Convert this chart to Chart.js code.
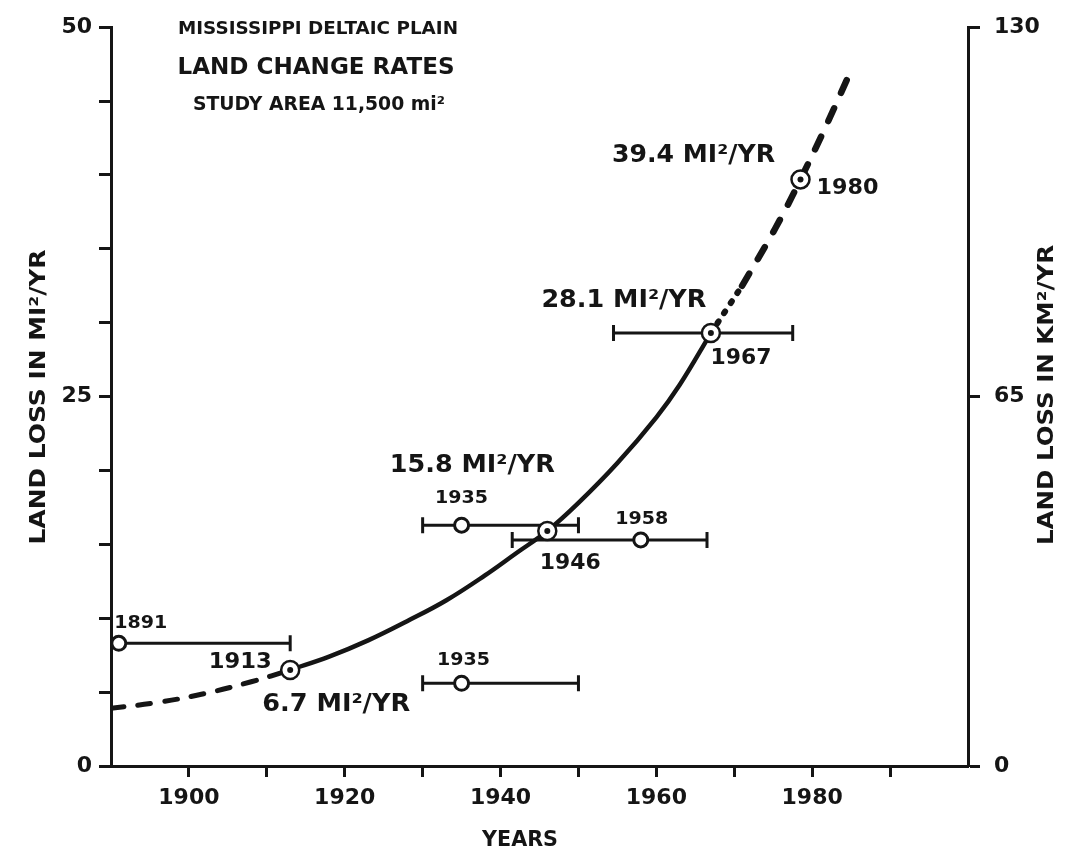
<!DOCTYPE html>
<html>
<head>
<meta charset="utf-8">
<script src="https://cdn.jsdelivr.net/npm/chart.js@4"></script>
<style>
  html, body { margin: 0; padding: 0; background: #fff; }
  #wrap { width: 1073px; height: 861px; position: relative; }
</style>
</head>
<body>
<div id="wrap"><canvas id="landChart"></canvas></div>
<script>
// fitted land loss curve (MI²/YR)
const fitYears = [1913, 1918, 1923, 1928, 1933, 1938, 1942, 1946, 1950, 1955, 1960, 1963, 1967];
const fitRates = [6.5, 7.4, 8.5, 9.8, 11.2, 12.9, 14.4, 15.9, 17.8, 20.5, 23.6, 25.8, 29.3];
// dashed part back to 1890
const pastYears = [1890, 1896, 1902, 1908, 1913];
const pastRates = [3.9, 4.3, 4.9, 5.7, 6.5];
// dotted, then dashed projection after 1967
const nearYears = [1967, 1969, 1971];
const nearRates = [29.3, 30.9, 32.5];
const projYears = [1971, 1974, 1976.5, 1978.5, 1981.5, 1984.5];
const projRates = [32.5, 35.2, 37.6, 39.7, 43.0, 46.5];

// survey rates with their date ranges (open circles)
const surveyYears = [1891, 1935, 1935, 1958];
const surveyRates = [8.3, 5.6, 16.3, 15.3];
const surveyFrom = [1891, 1930, 1930, 1941.5];
const surveyTo = [1913, 1950, 1950, 1966.5];

// rates on the curve (circled dots)
const curveYears = [1913, 1946, 1967, 1978.5];
const curveRates = [6.5, 15.9, 29.3, 39.7];
const curveFrom = [null, null, 1954.5, null];
const curveTo = [null, null, 1977.5, null];

// axis ticks
const yearLabels = [1900, 1920, 1940, 1960, 1980];
const mileLabels = [0, 25, 50];
const kmLabels = [0, 65, 130];

const ink = "#151515";
const face = "DejaVu Sans";

const toPoints = (xs, ys) => xs.map((x, i) => ({ x: x, y: ys[i] }));

// error bars, one small dataset each
const bars = [];
surveyYears.forEach((yr, i) => {
  bars.push({ from: surveyFrom[i], to: surveyTo[i], y: surveyRates[i], capLeft: i !== 0 });
});
curveYears.forEach((yr, i) => {
  if (curveFrom[i] !== null) bars.push({ from: curveFrom[i], to: curveTo[i], y: curveRates[i], capLeft: true });
});

const barSets = bars.map((b) => ({
  data: [{ x: b.from, y: b.y }, { x: b.to, y: b.y }],
  showLine: true,
  borderColor: ink,
  borderWidth: 3,
  pointStyle: "line",
  pointRotation: 90,
  pointRadius: [b.capLeft ? 8 : 0, 8],
  pointBorderWidth: 3,
  pointBorderColor: ink,
  order: 1,
}));

// annotation text, anchored to a data point, offset in pixels
const notes = [
  { text: "39.4 MI²/YR", x: curveYears[3], y: curveRates[3], dx: -107, dy: -24, size: 25, w: 163 },
  { text: "1980", x: curveYears[3], y: curveRates[3], dx: 47, dy: 9, size: 22, w: 62 },
  { text: "28.1 MI²/YR", x: curveYears[2], y: curveRates[2], dx: -87, dy: -33, size: 25, w: 165 },
  { text: "1967", x: curveYears[2], y: curveRates[2], dx: 30, dy: 25, size: 22, w: 61 },
  { text: "15.8 MI²/YR", x: curveYears[1], y: curveRates[1], dx: -75, dy: -66, size: 25, w: 165 },
  { text: "1946", x: curveYears[1], y: curveRates[1], dx: 23, dy: 32, size: 22, w: 61 },
  { text: "1935", x: surveyYears[2], y: surveyRates[2], dx: 0, dy: -27, size: 18, w: 53 },
  { text: "1958", x: surveyYears[3], y: surveyRates[3], dx: 1, dy: -21, size: 18, w: 53 },
  { text: "1891", x: surveyYears[0], y: surveyRates[0], dx: 22, dy: -20, size: 18, w: 53 },
  { text: "1913", x: curveYears[0], y: curveRates[0], dx: -50, dy: -8, size: 22, w: 63 },
  { text: "6.7 MI²/YR", x: curveYears[0], y: curveRates[0], dx: 46, dy: 35, size: 25, w: 148 },
  { text: "1935", x: surveyYears[1], y: surveyRates[1], dx: 2, dy: -23, size: 18, w: 53 },
];

function stretchText(ctx, text, x, y, font, width, angle) {
  ctx.save();
  ctx.font = font;
  const natural = ctx.measureText(text).width;
  ctx.translate(x, y);
  if (angle) ctx.rotate(angle);
  ctx.scale(width / natural, 1);
  ctx.fillStyle = ink;
  ctx.textAlign = "center";
  ctx.textBaseline = "middle";
  ctx.fillText(text, 0, 0);
  ctx.restore();
}

const textPlugin = {
  id: "textPlugin",
  afterDraw(chart) {
    const ctx = chart.ctx;
    const xs = chart.scales.x;
    const ys = chart.scales.y;

    // title block
    stretchText(ctx, "MISSISSIPPI DELTAIC PLAIN", 318, 29, "bold 18px " + face, 280);
    stretchText(ctx, "LAND CHANGE RATES", 316, 68, "bold 23px " + face, 277);
    stretchText(ctx, "STUDY AREA 11,500 mi²", 319, 105, "600 19px " + face, 252);

    // axis titles
    stretchText(ctx, "LAND LOSS IN MI²/YR", 40, 397, "bold 21px " + face, 295, -Math.PI / 2);
    stretchText(ctx, "LAND LOSS IN KM²/YR", 1048, 395, "bold 21px " + face, 300, -Math.PI / 2);
    stretchText(ctx, "YEARS", 520, 840, "bold 22px " + face, 76);

    notes.forEach((n) => {
      const px = xs.getPixelForValue(n.x) + n.dx;
      const py = ys.getPixelForValue(n.y) + n.dy;
      stretchText(ctx, n.text, px, py, "bold " + n.size + "px " + face, n.w);
    });
  },
};

const tickFont = { family: face, weight: "bold", size: 22 };

const curveLine = (xs, ys, width, dash) => ({
  data: toPoints(xs, ys),
  showLine: true,
  borderColor: ink,
  borderWidth: width,
  borderDash: dash,
  borderCapStyle: dash.length ? "round" : "butt",
  pointRadius: 0,
  tension: 0.4,
  order: 2,
});

new Chart(document.getElementById("landChart").getContext("2d"), {
  type: "scatter",
  data: {
    datasets: [
      // dots inside the circled points
      {
        data: toPoints(curveYears, curveRates),
        pointRadius: 3,
        pointBackgroundColor: ink,
        pointBorderWidth: 0,
        order: -1,
      },
      {
        data: toPoints(curveYears, curveRates),
        pointRadius: 9,
        pointBorderWidth: 2.5,
        pointBorderColor: ink,
        pointBackgroundColor: "#fff",
        order: 0,
      },
      {
        data: toPoints(surveyYears, surveyRates),
        pointRadius: 7,
        pointBorderWidth: 3,
        pointBorderColor: ink,
        pointBackgroundColor: "#fff",
        order: 0,
      },
      ...barSets,
      curveLine(fitYears, fitRates, 4.5, []),
      curveLine(pastYears, pastRates, 5, [13, 14]),
      curveLine(nearYears, nearRates, 6, [2, 10]),
      curveLine(projYears, projRates, 6.5, [14, 17]),
    ],
  },
  options: {
    responsive: true,
    maintainAspectRatio: false,
    animation: false,
    events: [],
    layout: { padding: { top: 21, left: 0, right: 0, bottom: 0 } },
    plugins: { legend: { display: false }, tooltip: { enabled: false } },
    scales: {
      x: {
        type: "linear",
        min: 1890,
        max: 2000,
        afterFit: (s) => { s.height = 95; },
        border: { color: ink, width: 3 },
        grid: {
          drawOnChartArea: false,
          tickLength: 11,
          tickWidth: 3,
          tickColor: (c) => (c.tick && (c.tick.value === 1890 || c.tick.value === 2000) ? "rgba(0,0,0,0)" : ink),
        },
        ticks: {
          stepSize: 10,
          autoSkip: false,
          maxRotation: 0,
          padding: 8,
          color: ink,
          font: tickFont,
          callback: (v) => (yearLabels.includes(v) ? String(v) : ""),
        },
      },
      y: {
        position: "left",
        min: 0,
        max: 50,
        afterFit: (s) => { s.width = 111; },
        border: { color: ink, width: 3 },
        grid: { drawOnChartArea: false, tickLength: 12, tickWidth: 3, tickColor: ink },
        ticks: {
          stepSize: 5,
          autoSkip: false,
          padding: 7,
          color: ink,
          font: tickFont,
          callback: (v) => (mileLabels.includes(v) ? String(v) : ""),
        },
      },
      y2: {
        position: "right",
        min: 0,
        max: 130,
        afterFit: (s) => { s.width = 105; },
        border: { color: ink, width: 3 },
        grid: { drawOnChartArea: false, tickLength: 12, tickWidth: 3, tickColor: ink },
        ticks: {
          stepSize: 65,
          autoSkip: false,
          padding: 14,
          color: ink,
          font: tickFont,
          callback: (v) => (kmLabels.includes(v) ? String(v) : ""),
        },
      },
    },
  },
  plugins: [textPlugin],
});
</script>
</body>
</html>
